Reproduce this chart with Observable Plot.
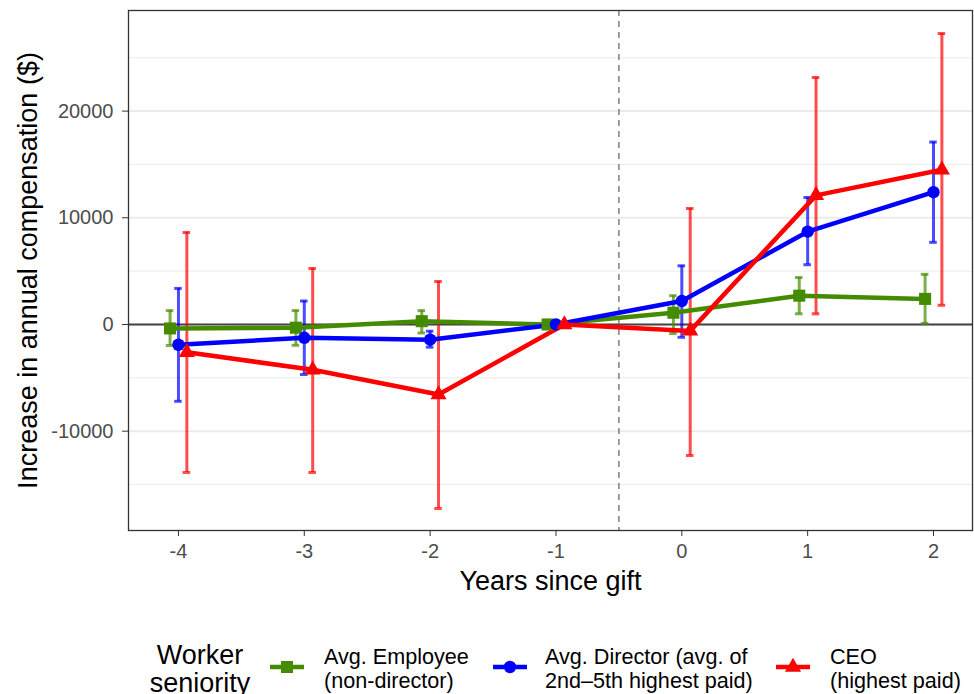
<!DOCTYPE html>
<html><head><meta charset="utf-8">
<script src="https://cdn.jsdelivr.net/npm/d3@7"></script>
<script src="https://cdn.jsdelivr.net/npm/@observablehq/plot@0.6"></script>
<style>
body{margin:0;background:#fff;font-family:"Liberation Sans",Arial,Helvetica,sans-serif;}
#wrap{width:974px;height:694px;overflow:hidden;position:relative;background:#fff}
#legend{position:absolute;left:0;top:610px;width:974px;height:84px;}
#legend .ttl{position:absolute;font-size:27px;line-height:28px;text-align:center;color:#000;}
#legend .lab{position:absolute;font-size:21.6px;line-height:24px;color:#000;white-space:nowrap;}
#legend svg{position:absolute;}
</style></head><body>
<div id="wrap"><div id="chart"></div><div id="legend"></div></div>
<script>
// ---- data ----
const years = [-4, -3, -2, -1, 0, 1, 2];
const seriesNames = ["Avg. Employee (non-director)", "Avg. Director (avg. of 2nd–5th highest paid)", "CEO (highest paid)"];
const legendLines = [["Avg. Employee", "(non-director)"], ["Avg. Director (avg. of", "2nd–5th highest paid)"], ["CEO", "(highest paid)"]];
const employeeEst = [-370, -300, 310, 0, 1100, 2700, 2400];
const employeeLo  = [-1970, -1950, -800, null, -850, 1000, 100];
const employeeHi  = [1300, 1300, 1300, null, 2700, 4400, 4700];
const directorEst = [-1900, -1250, -1430, 0, 2200, 8700, 12400];
const directorLo  = [-7200, -4690, -2130, null, -1200, 5600, 7700];
const directorHi  = [3380, 2200, -630, null, 5500, 11900, 17100];
const ceoEst = [-2600, -4250, -6560, 0, -600, 12100, 14500];
const ceoLo  = [-13870, -13870, -17250, null, -12280, 1000, 1800];
const ceoHi  = [8620, 5250, 4030, null, 10870, 23150, 27270];
const yMajorTicks = [-10000, 0, 10000, 20000];
const yMinorTicks = [-15000, -5000, 5000, 15000, 25000];

const colors = ["#458B00", "#0000FF", "#FF0000"];
const symbols = ["square", "circle", "triangle"];
const dodge = [-0.0667, 0, 0.0667];
const capHalf = 0.03;

const estArr = [employeeEst, directorEst, ceoEst];
const loArr = [employeeLo, directorLo, ceoLo];
const hiArr = [employeeHi, directorHi, ceoHi];
const rows = [];
seriesNames.forEach((s, si) => {
  years.forEach((yr, i) => {
    const xd = yr + dodge[si];
    rows.push({series: s, si, x: xd, capL: xd - capHalf, capR: xd + capHalf,
      est: estArr[si][i], lo: loArr[si][i], hi: hiArr[si][i]});
  });
});
const bars = rows.filter(d => d.lo != null);

const marks = [
  Plot.ruleY(yMinorTicks, {stroke: "#ebebeb", strokeWidth: 1}),
  Plot.ruleY(yMajorTicks, {stroke: "#ebebeb", strokeWidth: 2}),
  Plot.ruleY([0], {stroke: "#444", strokeWidth: 2}),
  Plot.ruleX([-0.5], {stroke: "#7f7f7f", strokeWidth: 1.5, strokeDasharray: "6,5"}),
];
[0, 1, 2].forEach(si => {
  const b = bars.filter(d => d.si === si);
  marks.push(Plot.ruleX(b, {x: "x", y1: "lo", y2: "hi", stroke: colors[si], strokeWidth: 3, strokeOpacity: 0.7}));
  marks.push(Plot.ruleY(b, {y: "hi", x1: "capL", x2: "capR", stroke: colors[si], strokeWidth: 3, strokeOpacity: 0.7}));
  marks.push(Plot.ruleY(b, {y: "lo", x1: "capL", x2: "capR", stroke: colors[si], strokeWidth: 3, strokeOpacity: 0.7}));
});
[0, 1, 2].forEach(si => {
  marks.push(Plot.line(rows.filter(d => d.si === si), {x: "x", y: "est", stroke: colors[si], strokeWidth: 4.5}));
});
[0, 1, 2].forEach(si => {
  marks.push(Plot.dot(rows.filter(d => d.si === si), {x: "x", y: "est", fill: colors[si], stroke: "none",
    symbol: symbols[si], r: [6.8, 6.2, 6][si]}));
});
marks.push(
  Plot.frame({stroke: "#333", strokeWidth: 1.3}),
  Plot.axisY(yMajorTicks, {tickSize: 6, tickPadding: 9, fontSize: 20, stroke: "#333", fill: "#4d4d4d", tickFormat: d => String(d), label: null}),
  Plot.axisX(years, {tickSize: 6, tickPadding: 7, fontSize: 20, stroke: "#333", fill: "#4d4d4d", tickFormat: d => String(d), label: null}),
  Plot.text(["Years since gift"], {text: d => d, frameAnchor: "bottom", dy: 59, fontSize: 27, fill: "#000"}),
  Plot.text(["Increase in annual compensation ($)"], {text: d => d, frameAnchor: "left", dx: -100, rotate: -90, textAnchor: "middle", fontSize: 27, fill: "#000"})
);

const chart = Plot.plot({
  width: 974, height: 610,
  marginTop: 10, marginBottom: 80, marginLeft: 128, marginRight: 2,
  style: {fontFamily: "'Liberation Sans', Arial, Helvetica, sans-serif", background: "white", overflow: "visible"},
  x: {domain: [-4.397, 2.31]},
  y: {domain: [-19310, 29430]},
  marks
});
document.getElementById("chart").appendChild(chart);

// ---- legend (HTML below the SVG) ----
const lg = document.getElementById("legend");
const title = document.createElement("div");
title.className = "ttl";
title.style.left = "140px"; title.style.width = "120px"; title.style.top = "31px";
title.innerHTML = "Worker<br>seniority";
lg.appendChild(title);
const keyX = [268, 491, 774];
const labX = [324, 545, 830];
const symPaths = {
  square: (r) => d3.symbol(d3.symbolSquare, Math.PI * r * r)(),
  circle: (r) => d3.symbol(d3.symbolCircle, Math.PI * r * r)(),
  triangle: (r) => d3.symbol(d3.symbolTriangle, Math.PI * r * r)()
};
[0, 1, 2].forEach(si => {
  const ns = "http://www.w3.org/2000/svg";
  const svg = document.createElementNS(ns, "svg");
  svg.setAttribute("width", 38); svg.setAttribute("height", 30);
  svg.style.left = keyX[si] + "px"; svg.style.top = "42px";
  const ln = document.createElementNS(ns, "line");
  ln.setAttribute("x1", 2); ln.setAttribute("x2", 36); ln.setAttribute("y1", 15); ln.setAttribute("y2", 15);
  ln.setAttribute("stroke", colors[si]); ln.setAttribute("stroke-width", 4.5);
  svg.appendChild(ln);
  const p = document.createElementNS(ns, "path");
  p.setAttribute("d", symPaths[symbols[si]]([6.8, 6.2, 6][si]));
  p.setAttribute("transform", "translate(19,15)");
  p.setAttribute("fill", colors[si]);
  svg.appendChild(p);
  lg.appendChild(svg);
  const lab = document.createElement("div");
  lab.className = "lab";
  lab.style.left = labX[si] + "px"; lab.style.top = "35px";
  lab.innerHTML = legendLines[si].join("<br>");
  lg.appendChild(lab);
});
</script>
</body></html>
